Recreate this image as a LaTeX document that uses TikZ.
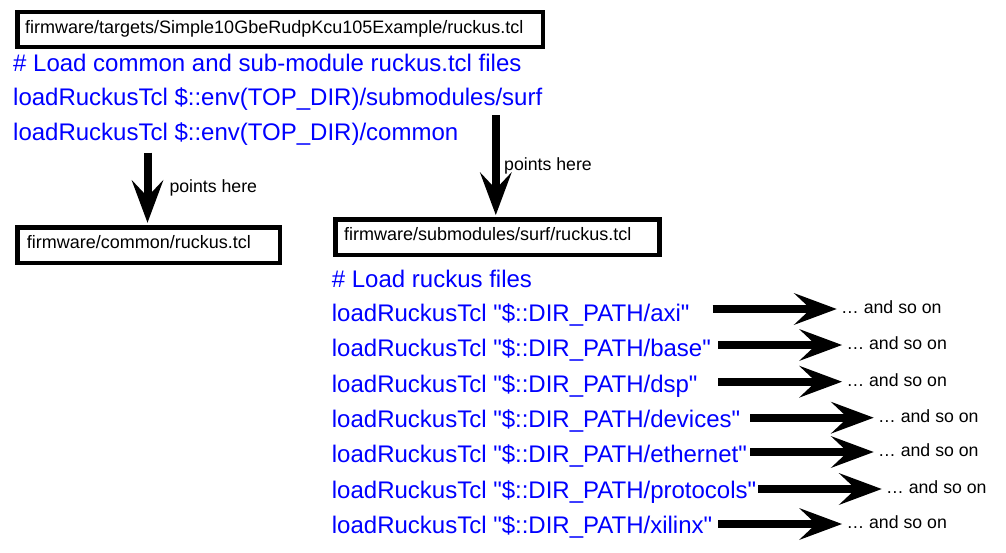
\documentclass[tikz,border=0pt]{standalone}
\usepackage{fontspec}
\setmainfont{Liberation Sans}
\usetikzlibrary{arrows.meta,calc}
\definecolor{codeblue}{RGB}{0,0,255}
\newcommand{\qq}{\textquotedbl}
\begin{document}
\begin{tikzpicture}[x=1pt,y=-1pt,
  filebox/.style={draw=black, line width=4.5pt, rectangle, inner sep=0pt, anchor=north west},
  fname/.style={anchor=base west, inner sep=0pt, font=\fontsize{18}{21}\selectfont},
  code/.style={anchor=base west, inner sep=0pt, text=codeblue, font=\fontsize{24}{28}\selectfont},
  note/.style={anchor=base west, inner sep=0pt, font=\fontsize{17.7}{20}\selectfont},
  bigarrow/.style={line width=8pt, -{Stealth[length=43pt,width=32pt,inset=17pt,line width=0pt]}}
]
\useasboundingbox (0,0) rectangle (1006,552);

% boxes
\node[filebox, minimum width=525.5pt, minimum height=35pt] (box1) at (15,9.5) {};
\node[filebox, minimum width=262.7pt, minimum height=35.5pt] (box2) at (15,225) {};
\node[filebox, minimum width=323.8pt, minimum height=35.6pt] (box3) at (333.2,217.2) {};

\node[fname] (t1) at (25,33) {firmware/targets/Simple10GbeRudpKcu105Example/ruckus.tcl};
\node[fname] (t2) at (26.7,248) {firmware/common/ruckus.tcl};
\node[fname] (t3) at (344,240.5) {firmware/submodules/surf/ruckus.tcl};

% top code
\node[code] (c1) at (13,71) {\# Load common and sub-module ruckus.tcl files};
\node[code] (c2) at (13,105.5) {loadRuckusTcl \$::env(TOP\_DIR)/submodules/surf};
\node[code] (c3) at (13,140.5) {loadRuckusTcl \$::env(TOP\_DIR)/common};

% down arrows
\coordinate (d1) at (147.5,152.7);
\coordinate (d2) at (495.8,115);
\draw[bigarrow, shorten >=2.25pt] (d1) -- (d1 |- box2.north);
\draw[bigarrow, shorten >=2.2pt] (d2) -- (d2 |- box3.north);
\node[note] (p1) at (169.3,192.7) {points here};
\node[note] (p2) at (504,170) {points here};

% surf code
\node[code] (r0) at (331.7,287) {\# Load ruckus files};
\node[code] (r1) at (331.7,321.6) {loadRuckusTcl \qq\$::DIR\_PATH/axi\qq};
\node[code] (r2) at (331.7,356.9) {loadRuckusTcl \qq\$::DIR\_PATH/base\qq};
\node[code] (r3) at (331.7,392.2) {loadRuckusTcl \qq\$::DIR\_PATH/dsp\qq};
\node[code] (r4) at (331.7,427.5) {loadRuckusTcl \qq\$::DIR\_PATH/devices\qq};
\node[code] (r5) at (331.7,462.8) {loadRuckusTcl \qq\$::DIR\_PATH/ethernet\qq};
\node[code] (r6) at (331.7,498.1) {loadRuckusTcl \qq\$::DIR\_PATH/protocols\qq};
\node[code] (r7) at (331.7,533.4) {loadRuckusTcl \qq\$::DIR\_PATH/xilinx\qq};

% and so on
\node[note] (s1) at (841,313.5) {… and so on};
\node[note] (s2) at (846.3,349.5) {… and so on};
\node[note] (s3) at (846.3,386.2) {… and so on};
\node[note] (s4) at (878,422.2) {… and so on};
\node[note] (s5) at (878,456.5) {… and so on};
\node[note] (s6) at (886,493.5) {… and so on};
\node[note] (s7) at (846.3,528.5) {… and so on};

\coordinate (a1) at (712.7,309);
\coordinate (a2) at (718,345);
\coordinate (a3) at (718,381.7);
\coordinate (a4) at (750,417.7);
\coordinate (a5) at (750,452);
\coordinate (a6) at (758,489);
\coordinate (a7) at (718,524);
\foreach \i in {1,...,7}{
  \draw[bigarrow, shorten >=4.3pt] (a\i) -- (s\i.west |- a\i);
}
\end{tikzpicture}
\end{document}
